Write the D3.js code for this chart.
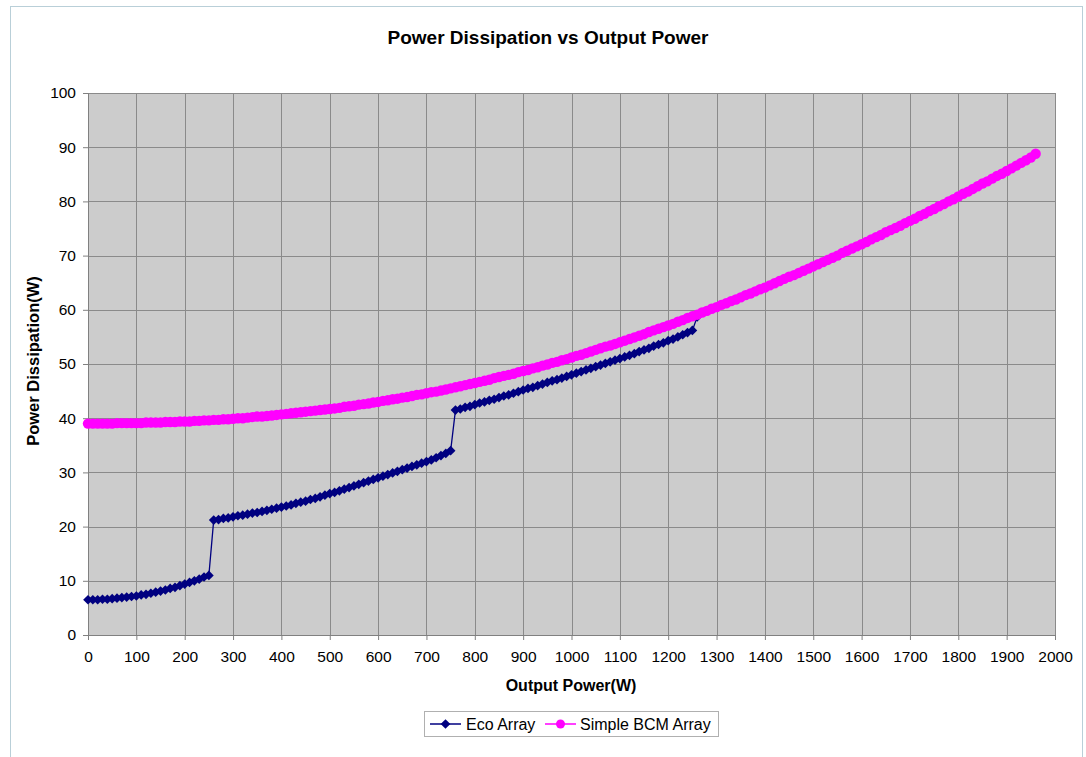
<!DOCTYPE html>
<html>
<head>
<meta charset="utf-8">
<script src="https://cdn.jsdelivr.net/npm/d3@7"></script>
<style>
  body { margin: 0; background: #fff; }
  text { font-family: "Liberation Sans", Arial, sans-serif; fill: #000; }
</style>
</head>
<body>
<div id="chart"></div>
<script>
// output power is sampled every 10 W, starting at 0 W
const powerStep = 10;

// Eco Array dissipation (W), 0 .. 1260 W
const ecoLoss = [
  6.5, 6.5, 6.5, 6.6, 6.6, 6.7, 6.8, 6.9, 7.0, 7.1,
  7.2, 7.4, 7.5, 7.7, 7.9, 8.1, 8.3, 8.6, 8.8, 9.1,
  9.4, 9.7, 10.0, 10.3, 10.7, 11.0,
  21.2, 21.3, 21.5, 21.6, 21.8, 22.0, 22.1, 22.3, 22.5, 22.6,
  22.8, 23.0, 23.2, 23.4, 23.6, 23.8, 24.0, 24.3, 24.5, 24.7,
  25.0, 25.2, 25.5, 25.8, 26.1, 26.3, 26.6, 26.9, 27.2, 27.5,
  27.8, 28.1, 28.4, 28.7, 29.0, 29.3, 29.6, 29.9, 30.2, 30.5,
  30.8, 31.1, 31.4, 31.7, 32.0, 32.3, 32.7, 33.1, 33.5, 34.0,
  41.5, 41.7, 42.0, 42.2, 42.5, 42.8, 43.0, 43.3, 43.5, 43.8,
  44.1, 44.3, 44.6, 44.9, 45.2, 45.5, 45.7, 46.0, 46.3, 46.6,
  46.9, 47.1, 47.4, 47.7, 48.0, 48.3, 48.6, 48.9, 49.2, 49.5,
  49.8, 50.1, 50.4, 50.7, 51.0, 51.3, 51.6, 51.9, 52.3, 52.6,
  52.9, 53.3, 53.6, 53.9, 54.3, 54.6, 55.0, 55.4, 55.8, 56.2,
  58.7
];

// Simple BCM Array dissipation (W), 0 .. 1960 W
const bcmLoss = [
  39.0, 39.0, 39.0, 39.0, 39.0, 39.0, 39.1, 39.1, 39.1, 39.1,
  39.1, 39.1, 39.2, 39.2, 39.2, 39.2, 39.3, 39.3, 39.3, 39.4,
  39.4, 39.4, 39.5, 39.5, 39.6, 39.6, 39.7, 39.7, 39.8, 39.8,
  39.9, 40.0, 40.0, 40.1, 40.2, 40.3, 40.3, 40.4, 40.5, 40.6,
  40.7, 40.8, 40.9, 41.0, 41.1, 41.2, 41.3, 41.4, 41.5, 41.6,
  41.7, 41.8, 41.9, 42.1, 42.2, 42.3, 42.5, 42.6, 42.7, 42.9,
  43.0, 43.2, 43.3, 43.5, 43.6, 43.8, 43.9, 44.1, 44.3, 44.4,
  44.6, 44.8, 44.9, 45.1, 45.3, 45.5, 45.7, 45.9, 46.1, 46.3,
  46.5, 46.7, 46.9, 47.1, 47.4, 47.6, 47.8, 48.0, 48.2, 48.5,
  48.7, 48.9, 49.2, 49.4, 49.7, 49.9, 50.2, 50.4, 50.7, 50.9,
  51.2, 51.5, 51.7, 52.0, 52.3, 52.6, 52.9, 53.2, 53.4, 53.7,
  54.0, 54.3, 54.6, 54.9, 55.2, 55.5, 55.9, 56.2, 56.5, 56.8,
  57.1, 57.4, 57.8, 58.1, 58.5, 58.8, 59.1, 59.5, 59.8, 60.2,
  60.5, 60.9, 61.2, 61.6, 61.9, 62.3, 62.7, 63.0, 63.4, 63.8,
  64.1, 64.5, 64.9, 65.3, 65.7, 66.1, 66.4, 66.8, 67.2, 67.6,
  68.0, 68.4, 68.8, 69.2, 69.6, 70.0, 70.5, 70.9, 71.3, 71.7,
  72.1, 72.5, 73.0, 73.4, 73.8, 74.3, 74.7, 75.1, 75.5, 76.0,
  76.4, 76.8, 77.3, 77.7, 78.2, 78.6, 79.1, 79.5, 80.0, 80.4,
  80.9, 81.4, 81.8, 82.3, 82.8, 83.3, 83.7, 84.2, 84.7, 85.1,
  85.6, 86.1, 86.6, 87.1, 87.6, 88.1, 88.8
];

const xTicks = [0, 100, 200, 300, 400, 500, 600, 700, 800, 900, 1000,
  1100, 1200, 1300, 1400, 1500, 1600, 1700, 1800, 1900, 2000];
const yTicks = [0, 10, 20, 30, 40, 50, 60, 70, 80, 90, 100];

const seriesNames = ["Eco Array", "Simple BCM Array"];
const seriesColors = ["#000080", "#ff00ff"];

const W = 1086, H = 757;
const margin = { left: 88, right: 31, top: 93, bottom: 122 };
const width = W - margin.left - margin.right;
const height = H - margin.top - margin.bottom;

const svg = d3.select("#chart").append("svg")
  .attr("width", W).attr("height", H);

// outer chart frame
svg.append("rect")
  .attr("x", 10.5).attr("y", 6.5)
  .attr("width", 1072).attr("height", 800)
  .attr("fill", "none").attr("stroke", "#b9cfd8");

svg.append("text")
  .attr("x", 548).attr("y", 44)
  .attr("text-anchor", "middle")
  .attr("font-size", "19px").attr("font-weight", "bold")
  .text("Power Dissipation vs Output Power");

const g = svg.append("g")
  .attr("transform", "translate(" + margin.left + "," + margin.top + ")");

const x = d3.scaleLinear().domain([0, 2000]).range([0, width]);
const y = d3.scaleLinear().domain([0, 100]).range([height, 0]);

g.append("rect")
  .attr("width", width).attr("height", height)
  .attr("fill", "#cccccc");

// grid
g.append("g").selectAll("line").data(xTicks.slice(1)).join("line")
  .attr("x1", d => Math.round(x(d)) + 0.5).attr("x2", d => Math.round(x(d)) + 0.5)
  .attr("y1", 0).attr("y2", height)
  .attr("stroke", "#8a8a8a");
g.append("g").selectAll("line").data(yTicks.slice(1)).join("line")
  .attr("x1", 0).attr("x2", width)
  .attr("y1", d => Math.round(y(d)) + 0.5).attr("y2", d => Math.round(y(d)) + 0.5)
  .attr("stroke", "#8a8a8a");

// axes
const xAxis = g.append("g")
  .attr("transform", "translate(0," + height + ")")
  .call(d3.axisBottom(x).tickValues(xTicks).tickSize(5).tickPadding(11).tickFormat(d3.format("d")));
const yAxis = g.append("g")
  .call(d3.axisLeft(y).tickValues(yTicks).tickSize(5).tickPadding(7).tickFormat(d3.format("d")));
[xAxis, yAxis].forEach(a => {
  a.select(".domain").attr("stroke", "#808080");
  a.selectAll(".tick line").attr("stroke", "#808080");
  a.selectAll(".tick text")
    .attr("font-family", "'Liberation Sans', Arial, sans-serif")
    .attr("font-size", "15.5px").attr("fill", "#000");
});

svg.append("text")
  .attr("x", 571).attr("y", 691)
  .attr("text-anchor", "middle")
  .attr("font-size", "16px").attr("font-weight", "bold")
  .text("Output Power(W)");

svg.append("text")
  .attr("transform", "translate(39," + (margin.top + height / 2 - 3) + ") rotate(-90)")
  .attr("text-anchor", "middle")
  .attr("font-size", "16.5px").attr("font-weight", "bold")
  .text("Power Dissipation(W)");

const ecoData = ecoLoss.map((v, i) => ({ p: i * powerStep, v }));
const bcmData = bcmLoss.map((v, i) => ({ p: i * powerStep, v }));

const line = d3.line().x(d => x(d.p)).y(d => y(d.v));
const diamond = d3.symbol().type(d3.symbolDiamond2).size(60);

// Eco Array
g.append("path").datum(ecoData)
  .attr("d", line).attr("fill", "none")
  .attr("stroke", seriesColors[0]).attr("stroke-width", 1.3);
g.append("g").selectAll("path").data(ecoData).join("path")
  .attr("transform", d => "translate(" + x(d.p) + "," + y(d.v) + ")")
  .attr("d", diamond)
  .attr("fill", seriesColors[0]);

// Simple BCM Array
g.append("path").datum(bcmData)
  .attr("d", line).attr("fill", "none")
  .attr("stroke", seriesColors[1]).attr("stroke-width", 1.2);
g.append("g").selectAll("circle").data(bcmData).join("circle")
  .attr("cx", d => x(d.p)).attr("cy", d => y(d.v))
  .attr("r", 5.2)
  .attr("fill", seriesColors[1]);

// legend
const lg = svg.append("g").attr("transform", "translate(424,711)");
lg.append("rect")
  .attr("x", 0.5).attr("y", 0.5).attr("width", 294).attr("height", 25)
  .attr("fill", "#fff").attr("stroke", "#b0b0b0");
const items = [
  { x: 6, tx: 42, sym: "diamond" },
  { x: 121, tx: 156, sym: "circle" }
];
items.forEach((it, i) => {
  lg.append("line")
    .attr("x1", it.x).attr("x2", it.x + 31)
    .attr("y1", 13).attr("y2", 13)
    .attr("stroke", seriesColors[i]).attr("stroke-width", 1.5);
  if (it.sym === "diamond") {
    lg.append("path")
      .attr("transform", "translate(" + (it.x + 15.5) + ",13)")
      .attr("d", diamond).attr("fill", seriesColors[i]);
  } else {
    lg.append("circle")
      .attr("cx", it.x + 15.5).attr("cy", 13).attr("r", 4.5)
      .attr("fill", seriesColors[i]);
  }
  lg.append("text")
    .attr("x", it.tx).attr("y", 19)
    .attr("font-size", "16px")
    .text(seriesNames[i]);
});
</script>
</body>
</html>
